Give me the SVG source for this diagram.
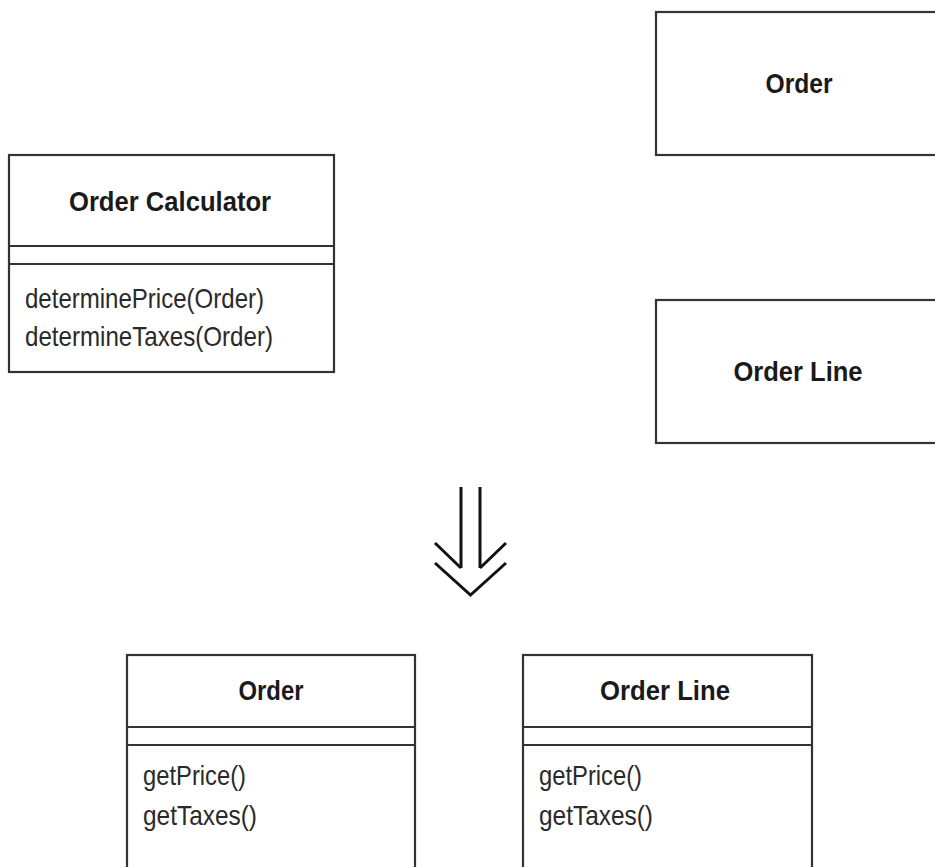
<svg xmlns="http://www.w3.org/2000/svg" width="935" height="867" viewBox="0 0 935 867">
  <style>
    .box { fill: #ffffff; stroke: #333333; stroke-width: 2.2; }
    .sep { stroke: #333333; stroke-width: 2.2; }
    .title { font-family: "Liberation Sans", Arial, sans-serif; font-weight: bold; font-size: 28px; fill: #1a1a1a; text-anchor: middle; }
    .op { font-family: "Liberation Sans", Arial, sans-serif; font-size: 28px; fill: #2a2a2a; }
    .arrow { fill: none; stroke: #111111; stroke-width: 3; stroke-linecap: butt; stroke-linejoin: miter; }
  </style>
  <rect width="935" height="867" fill="#ffffff"/>

  <!-- Order Calculator class -->
  <g id="order-calculator">
    <rect class="box" x="9" y="155" width="325" height="217"/>
    <line class="sep" x1="9" y1="246" x2="334" y2="246"/>
    <line class="sep" x1="9" y1="264" x2="334" y2="264"/>
    <text class="title" x="170" y="211" textLength="202" lengthAdjust="spacingAndGlyphs">Order Calculator</text>
    <text class="op" x="25" y="308" textLength="239" lengthAdjust="spacingAndGlyphs">determinePrice(Order)</text>
    <text class="op" x="25" y="346" textLength="248" lengthAdjust="spacingAndGlyphs">determineTaxes(Order)</text>
  </g>

  <!-- Order (before) -->
  <g id="order-top">
    <rect class="box" x="656" y="12" width="290" height="143"/>
    <text class="title" x="799" y="93" textLength="67" lengthAdjust="spacingAndGlyphs">Order</text>
  </g>

  <!-- Order Line (before) -->
  <g id="order-line-top">
    <rect class="box" x="656" y="300" width="290" height="143"/>
    <text class="title" x="798" y="381" textLength="129" lengthAdjust="spacingAndGlyphs">Order Line</text>
  </g>

  <!-- refactoring arrow -->
  <g id="connectors">
    <path class="arrow" d="M461,487 V568 M480,487 V568"/>
    <path class="arrow" d="M435,543 L461,568 M480,568 L506,543"/>
    <path class="arrow" d="M435,563 L470.5,595 L506,563"/>
  </g>

  <!-- Order (after) -->
  <g id="order-bottom">
    <rect class="box" x="127" y="655" width="288" height="230"/>
    <line class="sep" x1="127" y1="727" x2="415" y2="727"/>
    <line class="sep" x1="127" y1="745" x2="415" y2="745"/>
    <text class="title" x="271" y="700" textLength="65" lengthAdjust="spacingAndGlyphs">Order</text>
    <text class="op" x="143" y="785" textLength="103" lengthAdjust="spacingAndGlyphs">getPrice()</text>
    <text class="op" x="143" y="825" textLength="114" lengthAdjust="spacingAndGlyphs">getTaxes()</text>
  </g>

  <!-- Order Line (after) -->
  <g id="order-line-bottom">
    <rect class="box" x="523" y="655" width="289" height="230"/>
    <line class="sep" x1="523" y1="727" x2="812" y2="727"/>
    <line class="sep" x1="523" y1="745" x2="812" y2="745"/>
    <text class="title" x="665" y="700" textLength="130" lengthAdjust="spacingAndGlyphs">Order Line</text>
    <text class="op" x="539" y="785" textLength="103" lengthAdjust="spacingAndGlyphs">getPrice()</text>
    <text class="op" x="539" y="825" textLength="114" lengthAdjust="spacingAndGlyphs">getTaxes()</text>
  </g>
</svg>
